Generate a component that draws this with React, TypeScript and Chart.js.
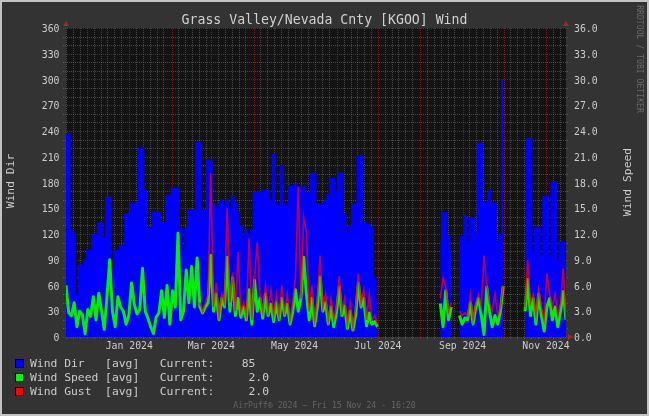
import React, { useEffect, useRef } from "react";
import { Chart, registerables } from "chart.js";

Chart.register(...registerables);

const FONT = '"DejaVu Sans Mono", monospace';

// One-year window ending at the graph time (Fri 15 Nov 2024 16:20)
const endMs = Date.UTC(2024, 10, 15, 16, 20);
const spanDays = 366;
const startMs = endMs - spanDays * 86400000;
const stepDays = 2; // one sample every 2 days

const windDir: (number | null)[] = [
  237, 237, 125, 121, 50, 84, 84, 90, 101, 101,
  119, 119, 133, 133, 116, 163, 163, 80, 101, 101,
  107, 107, 144, 144, 156, 156, 156, 220, 220, 171,
  127, 127, 146, 146, 146, 133, 133, 165, 165, 173,
  173, 173, 127, 100, 127, 148, 148, 148, 227, 227,
  148, 148, 206, 206, 155, 150, 155, 160, 155, 160,
  150, 165, 158, 145, 130, 115, 125, 120, 125, 169,
  169, 169, 171, 171, 171, 160, 213, 154, 154, 200,
  154, 154, 176, 176, 178, 176, 174, 176, 168, 168,
  191, 191, 155, 155, 155, 160, 166, 185, 185, 170,
  191, 191, 143, 122, 130, 155, 155, 211, 211, 133,
  133, 131, 128, 70, 43, null, null, null, null, null,
  null, null, null, null, null, null, null, null, null, null,
  null, null, null, null, null, null, null, 110, 145, 145,
  118, 100, null, null, 117, 117, 142, 110, 139, 139,
  120, 226, 226, 157, 157, 171, 156, 156, 110, 120,
  300, null, null, null, null, null, null, null, 105, 231,
  231, 100, 128, 128, 95, 164, 164, 95, 181, 181,
  90, 111, 111, 85,
];

const windSpeed: (number | null)[] = [
  6.0, 2.8, 2.5, 4.0, 1.2, 3.0, 2.6, 0.4, 3.2, 2.4,
  4.7, 2.0, 5.1, 3.1, 0.9, 4.7, 9.0, 3.0, 1.2, 4.7,
  3.5, 3.0, 1.5, 2.5, 6.3, 3.8, 2.7, 3.2, 8.0, 3.0,
  2.2, 1.2, 0.4, 2.3, 2.8, 5.4, 2.3, 6.0, 1.5, 5.4,
  3.5, 12.1, 2.0, 3.0, 7.8, 4.0, 8.2, 3.5, 9.2, 3.5,
  2.8, 3.5, 4.0, 9.5, 3.0, 5.0, 2.0, 4.5, 3.5, 9.3,
  3.0, 6.9, 2.5, 4.5, 2.3, 3.5, 2.0, 5.5, 1.5, 6.6,
  3.0, 4.5, 2.2, 5.0, 2.5, 3.8, 1.8, 4.0, 2.0, 4.5,
  2.5, 3.8, 1.5, 3.0, 5.5, 3.0, 4.5, 9.3, 5.0, 2.0,
  4.5, 1.3, 3.5, 7.0, 3.0, 4.0, 1.5, 3.5, 1.2, 2.8,
  5.8, 2.5, 3.6, 1.0, 3.0, 0.8, 2.5, 6.3, 3.5, 4.5,
  1.3, 2.8, 1.5, 1.8, 1.2, null, null, null, null, null,
  null, null, null, null, null, null, null, null, null, null,
  null, null, null, null, null, null, null, 3.9, 1.2, 5.4,
  2.0, 3.5, null, null, 2.5, 1.5, 2.2, 2.0, 4.0, 1.5,
  3.5, 4.5, 2.5, 0.3, 5.8, 3.0, 1.2, 2.5, 1.5, 3.0,
  5.9, null, null, null, null, null, null, null, 3.0, 6.7,
  2.5, 4.5, 1.5, 5.0, 2.5, 0.7, 3.5, 4.5, 2.0, 3.5,
  1.2, 3.0, 5.3, 2.0,
];

const windGust: (number | null)[] = [
  null, null, null, null, null, null, null, null, null, null,
  null, null, null, null, null, null, null, null, null, null,
  null, null, null, null, null, null, null, null, null, null,
  null, null, null, null, null, null, null, null, null, null,
  null, null, null, null, null, null, null, null, null, 4.0,
  3.0, 4.0, 5.0, 19.1, 3.5, 6.3, 2.5, 5.0, 4.0, 15.0,
  4.0, 7.5, 3.0, 9.9, 3.0, 4.0, 2.5, 11.5, 2.0, 7.0,
  11.0, 5.0, 3.0, 6.0, 3.0, 5.5, 2.5, 5.0, 2.5, 6.0,
  3.0, 5.0, 2.0, 4.0, 7.0, 17.5, 4.5, 14.0, 12.2, 3.0,
  6.0, 2.0, 4.5, 9.5, 3.5, 5.0, 2.0, 4.5, 2.0, 3.5,
  7.1, 3.0, 4.5, 1.5, 4.0, 1.2, 3.5, 7.4, 4.0, 5.5,
  2.0, 5.0, 2.0, 2.5, 1.5, null, null, null, null, null,
  null, null, null, null, null, null, null, null, null, null,
  null, null, null, null, null, null, null, 4.5, 6.9, 5.8,
  3.0, 4.0, null, null, 3.0, 2.5, 2.8, 2.5, 5.0, 2.0,
  4.0, 5.0, 3.5, 9.5, 6.0, 4.0, 3.0, 5.0, 2.5, 3.5,
  6.0, null, null, null, null, null, null, null, 3.5, 9.0,
  4.0, 5.0, 2.5, 5.5, 3.5, 2.0, 7.4, 5.0, 3.5, 5.0,
  2.5, 4.0, 8.0, 2.0,
];

const xTickLabels = ["Jan 2024", "Mar 2024", "May 2024", "Jul 2024", "Sep 2024", "Nov 2024"];
const xTickMonths: [number, number][] = [[2024, 0], [2024, 2], [2024, 4], [2024, 6], [2024, 8], [2024, 10]];
const minorDaysOfMonth = [6, 11, 16, 21, 26];

const dirMax = 360;
const dirStep = 30;
const dirMinorStep = 10;
const speedMax = 36;
const speedStep = 3;

const TITLE = "Grass Valley/Nevada Cnty [KGOO] Wind";
const FOOTER = "AirPuff\u00AE 2024 \u2013 Fri 15 Nov 24 - 16:20";
const WATERMARK = "RRDTOOL / TOBI OETIKER";

const BG = "#333333";
const PLOT_BG = "#131313";
const TEXT = "#cccccc";
const MINOR = "rgba(150,150,150,0.4)";
const MAJOR = "rgba(190,55,55,0.5)";
const ARROW = "#a02a2a";

const dayOf = (y: number, m: number, d: number) => (Date.UTC(y, m, d) - startMs) / 86400000;

const toPts = (arr: (number | null)[]) => arr.map((v, i) => ({ x: i * stepDays, y: v }));

const lastVal = (arr: (number | null)[]) => {
  for (let i = arr.length - 1; i >= 0; i--) if (arr[i] != null) return arr[i] as number;
  return 0;
};

const legendRows = [
  { color: "#0000ff", name: "Wind Dir", value: lastVal(windDir).toFixed(0).padStart(6) },
  { color: "#00ff00", name: "Wind Speed", value: lastVal(windSpeed).toFixed(1).padStart(8) },
  { color: "#ff0000", name: "Wind Gust", value: lastVal(windGust).toFixed(1).padStart(8) },
];

function gridDays() {
  const major: number[] = [];
  const minor: number[] = [];
  for (let k = 0; k < 14; k++) {
    const y = 2023 + Math.floor((10 + k) / 12);
    const m = (10 + k) % 12;
    const d1 = dayOf(y, m, 1);
    if (d1 > 0 && d1 < spanDays) major.push(d1);
    for (const dd of minorDaysOfMonth) {
      const d = dayOf(y, m, dd);
      if (d > 0 && d < spanDays) minor.push(d);
    }
  }
  return { major, minor };
}

const rrdPlugin = {
  id: "rrdGrid",
  beforeDatasetsDraw(chart: any) {
    const { ctx, chartArea: a, scales } = chart;
    const xs = scales.x;
    const ys = scales.y;
    const { major, minor } = gridDays();
    ctx.save();
    ctx.fillStyle = PLOT_BG;
    ctx.fillRect(a.left, a.top, a.right - a.left, a.bottom - a.top);
    ctx.lineWidth = 1;
    ctx.setLineDash([1, 1]);
    const hline = (v: number, color: string) => {
      const py = Math.round(ys.getPixelForValue(v)) + 0.5;
      ctx.strokeStyle = color;
      ctx.beginPath();
      ctx.moveTo(a.left - 3, py);
      ctx.lineTo(a.right + 3, py);
      ctx.stroke();
    };
    const vline = (d: number, color: string) => {
      const px = Math.round(xs.getPixelForValue(d)) + 0.5;
      ctx.strokeStyle = color;
      ctx.beginPath();
      ctx.moveTo(px, a.top);
      ctx.lineTo(px, a.bottom + 3);
      ctx.stroke();
    };
    minor.forEach((d) => vline(d, MINOR));
    for (let v = 0; v <= dirMax; v += dirMinorStep) if (v % dirStep) hline(v, MINOR);
    major.forEach((d) => vline(d, MAJOR));
    for (let v = 0; v <= dirMax; v += dirStep) hline(v, MAJOR);
    ctx.restore();
  },
  afterDraw(chart: any) {
    const { ctx, chartArea: a } = chart;
    ctx.save();
    ctx.fillStyle = ARROW;
    const tri = (p: number[][]) => {
      ctx.beginPath();
      ctx.moveTo(p[0][0], p[0][1]);
      ctx.lineTo(p[1][0], p[1][1]);
      ctx.lineTo(p[2][0], p[2][1]);
      ctx.closePath();
      ctx.fill();
    };
    tri([[a.left - 3, a.top - 2], [a.left + 3, a.top - 2], [a.left, a.top - 7]]);
    tri([[a.right - 3, a.top - 2], [a.right + 3, a.top - 2], [a.right, a.top - 7]]);
    tri([[a.right + 2, a.bottom - 3], [a.right + 2, a.bottom + 3], [a.right + 7, a.bottom]]);
    ctx.restore();
  },
};

const tickFont = { family: FONT, size: 9.8 };

export default function App() {
  const ref = useRef<HTMLCanvasElement>(null);

  useEffect(() => {
    const canvas = ref.current;
    if (!canvas) return;
    const xTickDays = xTickMonths.map(([y, m]) => dayOf(y, m, 1));
    const chart = new Chart(canvas, {
      type: "line",
      data: {
        datasets: [
          {
            label: "Wind Gust",
            data: toPts(windGust) as any,
            yAxisID: "y1",
            borderColor: "rgba(255,0,0,0.75)",
            borderWidth: 1.6,
            pointRadius: 0,
            tension: 0,
            fill: false,
            spanGaps: false,
            order: 0,
          },
          {
            label: "Wind Speed",
            data: toPts(windSpeed) as any,
            yAxisID: "y1",
            borderColor: "#00f000",
            borderWidth: 3,
            pointRadius: 0,
            tension: 0,
            borderJoinStyle: "round",
            fill: false,
            spanGaps: false,
            order: 1,
          },
          {
            label: "Wind Dir",
            data: toPts(windDir) as any,
            yAxisID: "y",
            borderColor: "#0000ff",
            backgroundColor: "#0000ff",
            borderWidth: 1,
            pointRadius: 0,
            stepped: "middle",
            fill: "origin",
            spanGaps: false,
            order: 2,
          },
        ],
      },
      options: {
        responsive: false,
        animation: false,
        events: [],
        layout: { padding: { top: 28, left: 0, right: 0, bottom: 0 } },
        plugins: {
          legend: { display: false },
          tooltip: { enabled: false },
          title: { display: false },
        },
        scales: {
          x: {
            type: "linear",
            min: 0,
            max: spanDays,
            grid: { display: false, drawTicks: false },
            border: { display: false },
            afterBuildTicks: (s: any) => {
              s.ticks = xTickDays.map((v) => ({ value: v }));
            },
            afterFit: (s: any) => {
              s.height = 416 - 337;
            },
            ticks: {
              autoSkip: false,
              maxRotation: 0,
              minRotation: 0,
              padding: 4,
              color: TEXT,
              font: tickFont,
              callback: (_v: any, i: number) => xTickLabels[i],
            },
          },
          y: {
            type: "linear",
            position: "left",
            min: 0,
            max: dirMax,
            grid: { display: false, drawTicks: false },
            border: { display: false },
            afterFit: (s: any) => {
              s.width = 66;
            },
            ticks: {
              stepSize: dirStep,
              padding: 6.5,
              labelOffset: 1.5,
              color: TEXT,
              font: tickFont,
              callback: (v: any) => String(v),
            },
          },
          y1: {
            type: "linear",
            position: "right",
            min: 0,
            max: speedMax,
            grid: { display: false, drawTicks: false },
            border: { display: false },
            afterFit: (s: any) => {
              s.width = 649 - 566;
            },
            ticks: {
              stepSize: speedStep,
              padding: 8,
              labelOffset: 1.5,
              color: TEXT,
              font: tickFont,
              callback: (v: any) => Number(v).toFixed(1),
            },
          },
        },
      } as any,
      plugins: [rrdPlugin],
    });
    return () => chart.destroy();
  }, []);

  const abs = (s: React.CSSProperties): React.CSSProperties => ({
    position: "absolute",
    whiteSpace: "pre",
    lineHeight: 1,
    fontFamily: FONT,
    ...s,
  });

  return (
    <div
      style={{
        position: "fixed",
        left: 0,
        top: 0,
        width: 649,
        height: 416,
        background: BG,
        overflow: "hidden",
      }}
    >
      <canvas
        ref={ref}
        width={649}
        height={416}
        style={{ position: "absolute", left: 0, top: 0, width: 649, height: 416 }}
      />
      <div
        style={abs({
          left: 0,
          width: 649,
          top: 12.8,
          textAlign: "center",
          fontSize: 13.2,
          color: "#d0d0d0",
        })}
      >
        {TITLE}
      </div>
      <div
        style={abs({
          left: 11,
          top: 181,
          fontSize: 11.35,
          color: TEXT,
          transform: "translate(-50%, -50%) rotate(-90deg)",
        })}
      >
        Wind Dir
      </div>
      <div
        style={abs({
          left: 628,
          top: 182,
          fontSize: 11.35,
          color: TEXT,
          transform: "translate(-50%, -50%) rotate(-90deg)",
        })}
      >
        Wind Speed
      </div>
      <div
        style={abs({
          left: 640,
          top: 59,
          fontSize: 8.15,
          color: "#6a6a6a",
          transform: "translate(-50%, -50%) rotate(90deg)",
        })}
      >
        {WATERMARK}
      </div>
      {legendRows.map((r, i) => (
        <React.Fragment key={r.name}>
          <div
            style={{
              position: "absolute",
              left: 15,
              top: 359 + i * 14,
              width: 9,
              height: 9,
              boxSizing: "border-box",
              border: "1px solid #000",
              background: r.color,
            }}
          />
          <div style={abs({ left: 30, top: 357.9 + i * 14, fontSize: 11.35, color: TEXT })}>
            {`${r.name.padEnd(10)} [avg]   Current:${r.value}`}
          </div>
        </React.Fragment>
      ))}
      <div
        style={abs({
          left: 0,
          width: 649,
          top: 400.8,
          textAlign: "center",
          fontSize: 8.2,
          color: "#666666",
        })}
      >
        {FOOTER}
      </div>
      <div
        style={{
          position: "absolute",
          left: 0,
          top: 0,
          width: 649,
          height: 416,
          boxSizing: "border-box",
          border: "2px solid #c4c4c4",
          pointerEvents: "none",
        }}
      />
    </div>
  );
}
